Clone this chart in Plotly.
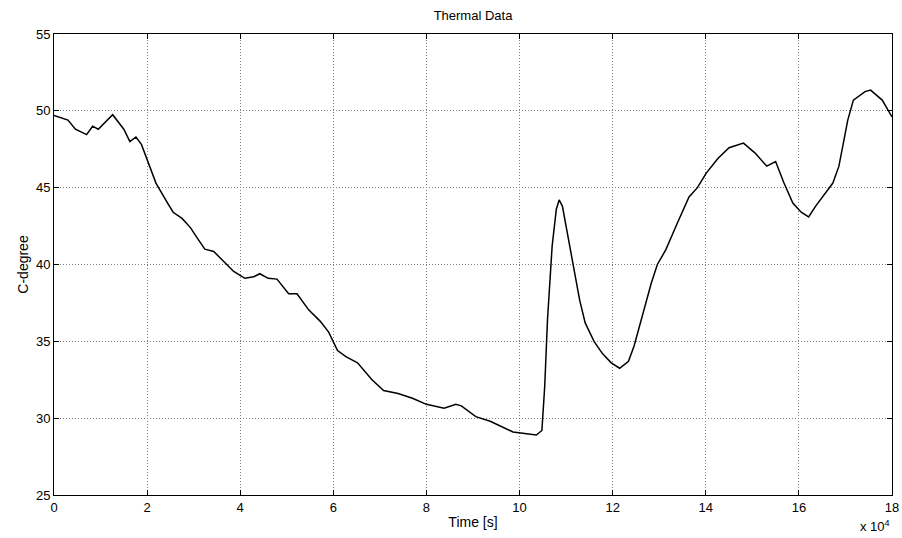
import plotly.graph_objects as go

# time in units of 10^4 s
time_1e4 = [0.0, 0.3, 0.46, 0.7, 0.83, 0.95, 1.26, 1.5, 1.63, 1.76, 1.88, 2.0, 2.19, 2.44, 2.56, 2.75,
            2.93, 3.06, 3.24, 3.43, 3.61, 3.86, 4.1, 4.29, 4.42, 4.6, 4.79, 5.04, 5.22, 5.47, 5.72,
            5.9, 6.09, 6.27, 6.52, 6.83, 7.08, 7.39, 7.7, 8.0, 8.38, 8.63, 8.75, 9.06, 9.37, 9.62,
            9.86, 10.11, 10.36, 10.48, 10.54, 10.6, 10.7, 10.79, 10.85, 10.92, 11.04, 11.16, 11.29,
            11.41, 11.6, 11.78, 11.97, 12.15, 12.34, 12.46, 12.65, 12.83, 12.96, 13.14, 13.39, 13.64,
            13.82, 14.01, 14.26, 14.5, 14.81, 15.06, 15.31, 15.5, 15.68, 15.87, 16.05, 16.21, 16.36,
            16.55, 16.73, 16.86, 17.05, 17.17, 17.42, 17.54, 17.79, 18.0]
temp_c = [49.7, 49.4, 48.8, 48.45, 49.0, 48.8, 49.75, 48.8, 48.0, 48.3, 47.8, 46.8, 45.3, 44.0, 43.4, 43.0,
          42.4, 41.8, 41.0, 40.85, 40.3, 39.55, 39.1, 39.2, 39.4, 39.1, 39.05, 38.1, 38.1, 37.05, 36.3,
          35.6, 34.4, 34.0, 33.6, 32.5, 31.8, 31.6, 31.3, 30.9, 30.65, 30.9, 30.8, 30.1, 29.8, 29.45,
          29.1, 29.0, 28.9, 29.2, 32.05, 36.4, 41.2, 43.6, 44.2, 43.8, 41.8, 39.65, 37.7,
          36.2, 35.0, 34.2, 33.6, 33.25, 33.7, 34.7, 36.8, 38.8, 40.0, 40.95, 42.7, 44.4,
          45.0, 45.95, 46.9, 47.6, 47.9, 47.25, 46.4, 46.7, 45.3, 44.0, 43.4, 43.1, 43.8,
          44.55, 45.3, 46.4, 49.4, 50.7, 51.25, 51.35, 50.7, 49.6]

x_ticks = [0, 2, 4, 6, 8, 10, 12, 14, 16, 18]
y_ticks = [25, 30, 35, 40, 45, 50, 55]

font_family = "Liberation Sans, Arial, sans-serif"

fig = go.Figure()
fig.add_trace(go.Scatter(x=time_1e4, y=temp_c, mode="lines",
                         line=dict(color="black", width=1.5), showlegend=False))

axis_common = dict(showline=True, linecolor="black", linewidth=1, mirror="ticks",
                   ticks="inside", ticklen=5, tickcolor="black", automargin=False,
                   showgrid=True, gridcolor="#808080", griddash="1px,2px", gridwidth=1,
                   zeroline=False, tickfont=dict(family=font_family, size=13, color="black"))

fig.update_xaxes(range=[0, 18], tickvals=x_ticks, ticktext=[str(v) for v in x_ticks],
                 title=dict(text="Time [s]", font=dict(family=font_family, size=14, color="black"),
                            standoff=3),
                 **axis_common)
fig.update_yaxes(range=[25, 55], tickvals=y_ticks, ticktext=[str(v) for v in y_ticks],
                 title=dict(text="C-degree", font=dict(family=font_family, size=14, color="black"),
                            standoff=4),
                 **axis_common)

fig.update_layout(
    width=902, height=538,
    margin=dict(l=54, r=10, t=34, b=43),
    paper_bgcolor="white", plot_bgcolor="white",
    title=dict(text="Thermal Data", x=0.5, xanchor="center", xref="paper", y=0.98, yanchor="top",
               font=dict(family=font_family, size=13, color="black")),
    annotations=[dict(text="x 10<sup>4</sup>", xref="paper", yref="paper", x=1.0, y=-0.045,
                      xanchor="right", yanchor="top", showarrow=False,
                      font=dict(family=font_family, size=13, color="black"))],
)

fig.write_html("out.html", config={"displayModeBar": False},
               post_script="document.body.style.margin='0';document.body.style.overflow='hidden';")
